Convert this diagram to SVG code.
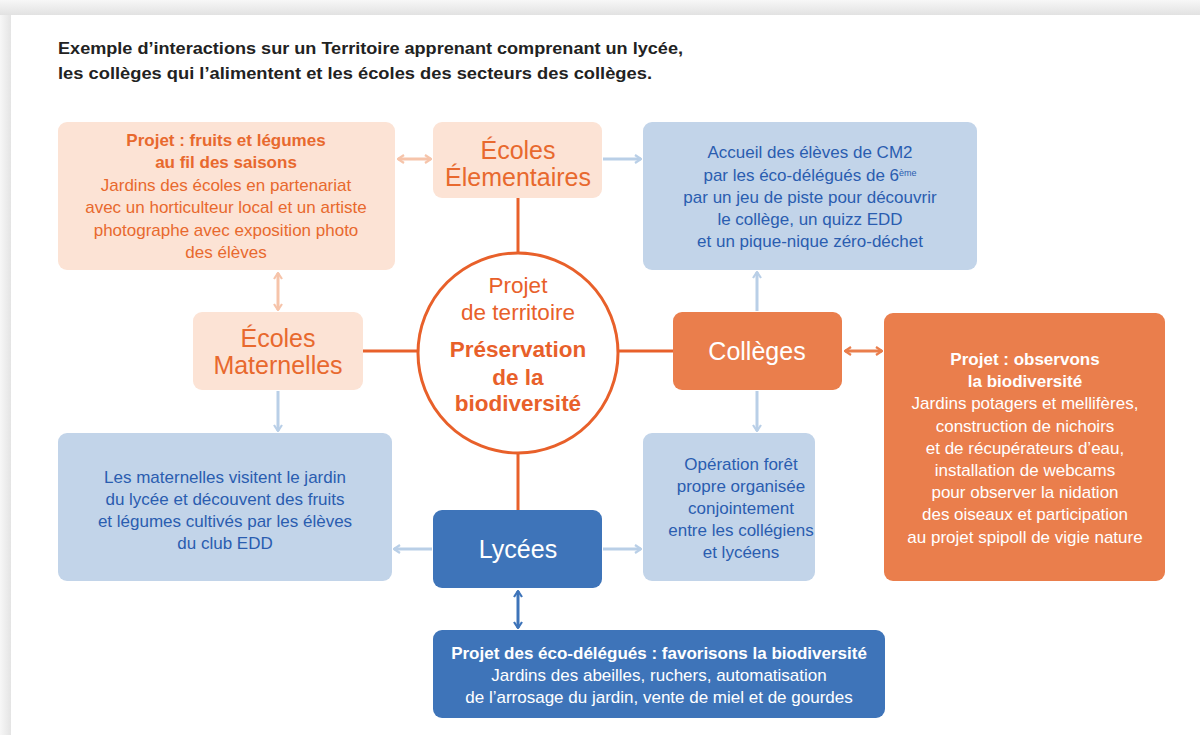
<svg xmlns="http://www.w3.org/2000/svg" width="1200" height="735" viewBox="0 0 1200 735">
<defs>
<linearGradient id="gTop" x1="0" y1="0" x2="0" y2="1">
<stop offset="0" stop-color="#f7f7f7"/><stop offset="1" stop-color="#e2e2e2"/>
</linearGradient>
<linearGradient id="gLeft" x1="0" y1="0" x2="1" y2="0">
<stop offset="0" stop-color="#f7f7f7"/><stop offset="1" stop-color="#e4e4e4"/>
</linearGradient>
<marker id="aPeach" viewBox="0 0 10 10" refX="9" refY="5" markerWidth="10" markerHeight="10" markerUnits="userSpaceOnUse" orient="auto-start-reverse">
<path d="M3,1 L9,5 L3,9" fill="none" stroke="#f6c4aa" stroke-width="2.2"/>
</marker>
<marker id="aLBlue" viewBox="0 0 10 10" refX="9" refY="5" markerWidth="10" markerHeight="10" markerUnits="userSpaceOnUse" orient="auto-start-reverse">
<path d="M3,1 L9,5 L3,9" fill="none" stroke="#b9cfe7" stroke-width="2.2"/>
</marker>
<marker id="aOrange" viewBox="0 0 10 10" refX="9" refY="5" markerWidth="10" markerHeight="10" markerUnits="userSpaceOnUse" orient="auto-start-reverse">
<path d="M3,1 L9,5 L3,9" fill="none" stroke="#ea7e4c" stroke-width="2.2"/>
</marker>
<marker id="aBlue" viewBox="0 0 10 10" refX="9" refY="5" markerWidth="10" markerHeight="10" markerUnits="userSpaceOnUse" orient="auto-start-reverse">
<path d="M3,1 L9,5 L3,9" fill="none" stroke="#3e74b9" stroke-width="2.2"/>
</marker>
</defs>
<style>
text{font-family:"Liberation Sans",Arial,sans-serif;text-anchor:middle}
.title{font-size:17px;font-weight:bold;fill:#222;text-anchor:start}
.peach{fill:#fce3d5}
.lblue{fill:#c2d4e9}
.orangebox{fill:#ea7e4c}
.dblue{fill:#3e74b9}
.t15{font-size:17px}
.b{font-weight:bold}
.otext{fill:#e8692e}
.btext{fill:#2a5db0}
.wtext{fill:#ffffff}
.big{font-size:25px}
.circ{font-size:22.5px;fill:#e8602a}
.line{stroke:#e8602a;stroke-width:3;fill:none}
.cp{stroke:#f6c4aa;stroke-width:3;fill:none}
.cl{stroke:#b9cfe7;stroke-width:3;fill:none}
.co{stroke:#ea7e4c;stroke-width:3;fill:none}
.cb{stroke:#3e74b9;stroke-width:3;fill:none}
</style>
<rect x="0" y="0" width="1200" height="735" fill="#efefef"/>
<rect x="0" y="0" width="1200" height="15" fill="url(#gTop)"/>
<rect x="0" y="15" width="11" height="720" fill="url(#gLeft)"/>
<rect x="11" y="15" width="1189" height="720" fill="#ffffff"/>

<text class="title" x="58" y="54" textLength="625" lengthAdjust="spacingAndGlyphs">Exemple d’interactions sur un Territoire apprenant comprenant un lycée,</text>
<text class="title" x="58" y="79" textLength="594" lengthAdjust="spacingAndGlyphs">les collèges qui l’alimentent et les écoles des secteurs des collèges.</text>

<g id="connectors">
<line class="line" x1="518" y1="198" x2="518" y2="253"/>
<line class="line" x1="518" y1="453" x2="518" y2="510"/>
<line class="line" x1="363" y1="351" x2="418" y2="351"/>
<line class="line" x1="618" y1="351" x2="673" y2="351"/>
<line class="cp" x1="398" y1="159" x2="431" y2="159" marker-start="url(#aPeach)" marker-end="url(#aPeach)"/>
<line class="cp" x1="278" y1="273" x2="278" y2="310" marker-start="url(#aPeach)" marker-end="url(#aPeach)"/>
<line class="cl" x1="603" y1="159" x2="641" y2="159" marker-end="url(#aLBlue)"/>
<line class="cl" x1="278" y1="391" x2="278" y2="431" marker-end="url(#aLBlue)"/>
<line class="cl" x1="757" y1="311" x2="757" y2="272" marker-end="url(#aLBlue)"/>
<line class="cl" x1="757" y1="391" x2="757" y2="431" marker-end="url(#aLBlue)"/>
<line class="cl" x1="432" y1="549" x2="394" y2="549" marker-end="url(#aLBlue)"/>
<line class="cl" x1="603" y1="549" x2="641" y2="549" marker-end="url(#aLBlue)"/>
<line class="co" x1="845" y1="351" x2="882" y2="351" marker-start="url(#aOrange)" marker-end="url(#aOrange)"/>
<line class="cb" x1="518" y1="591" x2="518" y2="628" marker-start="url(#aBlue)" marker-end="url(#aBlue)"/>
</g>

<g id="projet-fruits">
<rect class="peach" x="58" y="122" width="337" height="148" rx="9"/>
<text class="t15 otext b" x="226" y="146">Projet : fruits et légumes</text>
<text class="t15 otext b" x="226" y="168">au fil des saisons</text>
<text class="t15 otext" x="226" y="191">Jardins des écoles en partenariat</text>
<text class="t15 otext" x="226" y="213">avec un horticulteur local et un artiste</text>
<text class="t15 otext" x="226" y="236">photographe avec exposition photo</text>
<text class="t15 otext" x="226" y="258">des élèves</text>
</g>

<g id="ecoles-elementaires">
<rect class="peach" x="433" y="122" width="169" height="76" rx="9"/>
<text class="big otext" x="518" y="159">Écoles</text>
<text class="big otext" x="518" y="186">Élementaires</text>
</g>

<g id="accueil-cm2">
<rect class="lblue" x="643" y="122" width="334" height="148" rx="9"/>
<text class="t15 btext" x="810" y="158">Accueil des élèves de CM2</text>
<text class="t15 btext" x="810" y="181">par les éco-délégués de 6<tspan font-size="9" baseline-shift="super">ème</tspan></text>
<text class="t15 btext" x="810" y="203">par un jeu de piste pour découvrir</text>
<text class="t15 btext" x="810" y="225">le collège, un quizz EDD</text>
<text class="t15 btext" x="810" y="247">et un pique-nique zéro-déchet</text>
</g>

<g id="projet-territoire">
<circle cx="518" cy="353" r="100" fill="#ffffff" stroke="#e8602a" stroke-width="3"/>
<text class="circ" x="518" y="293">Projet</text>
<text class="circ" x="518" y="320">de territoire</text>
<text class="circ b" x="518" y="357">Préservation</text>
<text class="circ b" x="518" y="385">de la</text>
<text class="circ b" x="518" y="411">biodiversité</text>
</g>

<g id="ecoles-maternelles">
<rect class="peach" x="193" y="312" width="170" height="78" rx="9"/>
<text class="big otext" x="278" y="347">Écoles</text>
<text class="big otext" x="278" y="374">Maternelles</text>
</g>

<g id="colleges">
<rect class="orangebox" x="673" y="312" width="169" height="78" rx="9"/>
<text class="big wtext" x="757" y="360">Collèges</text>
</g>

<g id="projet-observons">
<rect class="orangebox" x="884" y="313" width="281" height="268" rx="9"/>
<text class="t15 wtext b" x="1025" y="365">Projet : observons</text>
<text class="t15 wtext b" x="1025" y="387">la biodiversité</text>
<text class="t15 wtext" x="1025" y="409">Jardins potagers et mellifères,</text>
<text class="t15 wtext" x="1025" y="432">construction de nichoirs</text>
<text class="t15 wtext" x="1025" y="454">et de récupérateurs d’eau,</text>
<text class="t15 wtext" x="1025" y="476">installation de webcams</text>
<text class="t15 wtext" x="1025" y="498">pour observer la nidation</text>
<text class="t15 wtext" x="1025" y="520">des oiseaux et participation</text>
<text class="t15 wtext" x="1025" y="543">au projet spipoll de vigie nature</text>
</g>

<g id="maternelles-visite">
<rect class="lblue" x="58" y="433" width="334" height="148" rx="9"/>
<text class="t15 btext" x="225" y="483">Les maternelles visitent le jardin</text>
<text class="t15 btext" x="225" y="505">du lycée et découvent des fruits</text>
<text class="t15 btext" x="225" y="527">et légumes cultivés par les élèves</text>
<text class="t15 btext" x="225" y="549">du club EDD</text>
</g>

<g id="lycees">
<rect class="dblue" x="433" y="510" width="169" height="78" rx="9"/>
<text class="big wtext" x="518" y="558">Lycées</text>
</g>

<g id="operation-foret">
<rect class="lblue" x="643" y="433" width="172" height="148" rx="9"/>
<text class="t15 btext" x="741" y="470">Opération forêt</text>
<text class="t15 btext" x="741" y="492">propre organisée</text>
<text class="t15 btext" x="741" y="514">conjointement</text>
<text class="t15 btext" x="741" y="536">entre les collégiens</text>
<text class="t15 btext" x="741" y="558">et lycéens</text>
</g>

<g id="projet-eco-delegues">
<rect class="dblue" x="433" y="630" width="452" height="88" rx="9"/>
<text class="t15 wtext b" x="659" y="659">Projet des éco-délégués : favorisons la biodiversité</text>
<text class="t15 wtext" x="659" y="681">Jardins des abeilles, ruchers, automatisation</text>
<text class="t15 wtext" x="659" y="703">de l’arrosage du jardin, vente de miel et de gourdes</text>
</g>
</svg>
